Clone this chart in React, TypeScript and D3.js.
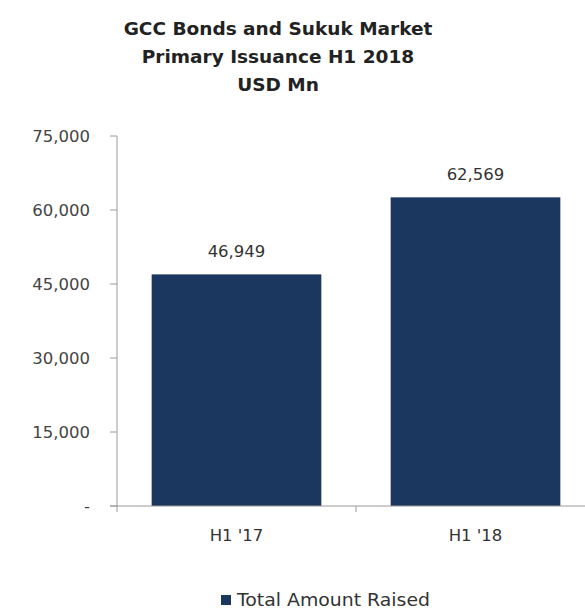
import React from "react";
import * as d3 from "d3";

const categories = ["H1 '17", "H1 '18"];
const values = [46949, 62569];
const yTicks = [0, 15000, 30000, 45000, 60000, 75000];
const titleLines = ["GCC Bonds and Sukuk Market", "Primary Issuance H1 2018", "USD Mn"];
const seriesName = "Total Amount Raised";

export default function App() {
  const W = 585, H = 615;
  const left = 117, right = 595, top = 136, bottom = 506;
  const x = d3.scaleBand().domain(categories).range([left, right]).paddingInner(0.29).paddingOuter(0.145);
  const y = d3.scaleLinear().domain([0, 75000]).range([bottom, top]);
  const fmt = d3.format(",");
  const font = "'DejaVu Sans', Verdana, sans-serif";
  const navy = "#1b365f";
  const step = x.step();
  return (
    <svg width={W} height={H} style={{ position: "absolute", left: 0, top: 0, background: "#fff" }} fontFamily={font}>
      {titleLines.map((t, i) => (
        <text key={i} x={278} y={35 + i * 28} textAnchor="middle" fontWeight="bold" fontSize={18.5} fill="#222">{t}</text>
      ))}
      {/* y axis */}
      <line x1={left} x2={left} y1={top} y2={bottom} stroke="#9a9a9a" strokeWidth={1} />
      {yTicks.map((t) => (
        <g key={t}>
          <line x1={left - 7} x2={left} y1={y(t)} y2={y(t)} stroke="#9a9a9a" />
          <text x={90} y={y(t)} dy="0.35em" textAnchor="end" fontSize={16.5} fill="#444">{t === 0 ? "-" : fmt(t)}</text>
        </g>
      ))}
      {/* bars */}
      {categories.map((c, i) => (
        <g key={c}>
          <rect x={x(c)!} y={y(values[i])} width={x.bandwidth()} height={bottom - y(values[i])} fill={navy} />
          <text x={x(c)! + x.bandwidth() / 2} y={y(values[i]) - 17} textAnchor="middle" fontSize={16.5} fill="#333">{fmt(values[i])}</text>
          <text x={x(c)! + x.bandwidth() / 2} y={535} dy="0.35em" textAnchor="middle" fontSize={16.5} fill="#333">{c}</text>
        </g>
      ))}
      {/* x axis */}
      <line x1={left - 7} x2={right} y1={bottom} y2={bottom} stroke="#9a9a9a" />
      {[0, 1, 2].map((k) => (
        <line key={k} x1={left + k * step} x2={left + k * step} y1={bottom} y2={bottom + 6} stroke="#9a9a9a" />
      ))}
      {/* legend */}
      <rect x={221} y={595} width={10} height={10} fill={navy} />
      <text x={237} y={600} dy="0.35em" fontSize={17.5} fill="#333" textLength={193} lengthAdjust="spacingAndGlyphs">{seriesName}</text>
    </svg>
  );
}
